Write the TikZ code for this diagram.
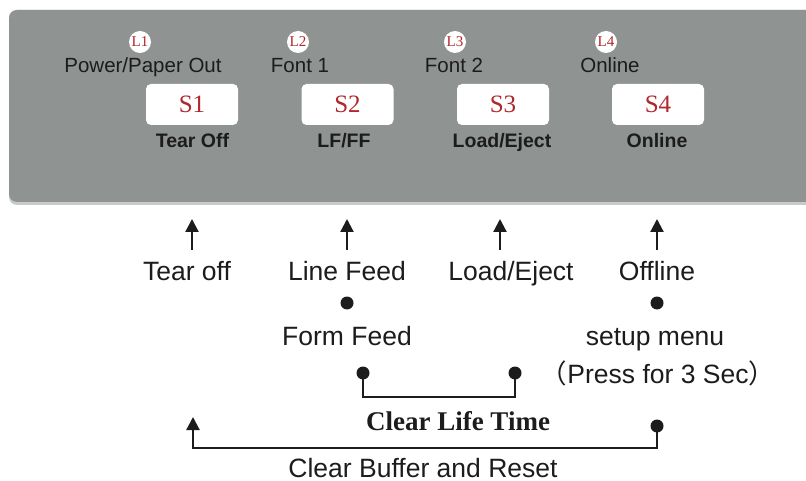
\documentclass[tikz,border=0pt]{standalone}
\usepackage{fontspec}
\setmainfont{Liberation Sans}
\newfontfamily\serifrm{Liberation Serif}
\newfontfamily\cjk{Noto Sans CJK SC}
\usetikzlibrary{arrows.meta}
\definecolor{panelgray}{HTML}{8F9391}
\definecolor{panelline}{HTML}{C9CBCA}
\definecolor{labred}{HTML}{B0282D}
\definecolor{inkdark}{HTML}{1C1C1C}
\tikzset{
  ledtext/.style={anchor=base, text=inkdark, font=\fontsize{20.5}{24}\selectfont, inner sep=0pt},
  keybox/.style={fill=white, rounded corners=5pt, minimum width=92pt, minimum height=41pt, inner sep=0pt, text=labred, font=\serifrm\fontsize{25}{28}\selectfont},
  keytext/.style={anchor=base, text=inkdark, font=\bfseries\fontsize{19.5}{22}\selectfont, inner sep=0pt},
  ledmark/.style={circle, fill=white, minimum size=22pt, inner sep=0pt, text=labred, font=\serifrm\fontsize{15}{16}\selectfont},
  functext/.style={anchor=base, text=inkdark, font=\fontsize{26.5}{30}\selectfont, inner sep=0pt},
  uparrow/.style={line width=2.2pt, draw=inkdark, -{Triangle[width=13pt,length=13pt]}},
  wire/.style={line width=2.2pt, draw=inkdark},
  dotmark/.style={fill=inkdark}
}
\begin{document}
\begin{tikzpicture}[x=1pt,y=-1pt]
\useasboundingbox (0,0) rectangle (806,481);
\fill[white] (0,0) rectangle (806,481);
% panel
\fill[panelline] (9,10) [rounded corners=8pt] -- (9,205) -- (830,205) -- (830,10) -- cycle;
\fill[panelgray] (9,10) [rounded corners=8pt] -- (9,202) -- (830,202) -- (830,10) -- cycle;

% LED markers
\node[ledmark] (l1) at (140,42) {L1};
\node[ledmark] (l2) at (298,42) {L2};
\node[ledmark] (l3) at (455,42) {L3};
\node[ledmark] (l4) at (606,42) {L4};
\node[ledtext] (p1) at (143,73) {Power/Paper Out};
\node[ledtext] (p2) at (300,73) {Font 1};
\node[ledtext] (p3) at (454,73) {Font 2};
\node[ledtext] (p4) at (610,73) {Online};

% keys
\node[keybox] (s1) at (192,104.5) {S1};
\node[keybox] (s2) at (347.5,104.5) {S2};
\node[keybox] (s3) at (503,104.5) {S3};
\node[keybox] (s4) at (658,104.5) {S4};
\node[keytext] (k1) at (192.5,148) {Tear Off};
\node[keytext] (k2) at (344,148) {LF/FF};
\node[keytext] (k3) at (502,148) {Load/Eject};
\node[keytext] (k4) at (657,148) {Online};

% function labels
\node[functext] (f1) at (187,280) {Tear off};
\node[functext] (f2) at (347,280) {Line Feed};
\node[functext] (f3) at (511,280) {Load/Eject};
\node[functext] (f4) at (657,280) {Offline};
\node[functext] (g2) at (347,345) {Form Feed};
\node[functext] (g4) at (655,345) {setup menu};
\node[functext] (h4) at (658,383) {{\cjk （}Press for 3 Sec{\cjk ）}};
\node[anchor=base, text=inkdark, inner sep=0pt, font=\serifrm\bfseries\fontsize{27}{30}\selectfont] (clt) at (458,430) {Clear Life Time};
\node[functext] (cbr) at (423,477) {Clear Buffer and Reset};

% arrows
\coordinate (a1b) at (192,250); \coordinate (a1t) at (192,219);
\coordinate (a2b) at (347,250); \coordinate (a2t) at (347,219);
\coordinate (a3b) at (500,250); \coordinate (a3t) at (500,219);
\coordinate (a4b) at (657,250); \coordinate (a4t) at (657,219);
\draw[uparrow] (a1b) -- (a1t);
\draw[uparrow] (a2b) -- (a2t);
\draw[uparrow] (a3b) -- (a3t);
\draw[uparrow] (a4b) -- (a4t);

% dots
\coordinate (d2) at (347,303);
\coordinate (d4) at (657,303);
\fill[dotmark] (d2) circle (6.5pt);
\fill[dotmark] (d4) circle (6.5pt);

% clear life time bracket
\coordinate (c1) at (363,373);
\coordinate (c2) at (515,373);
\fill[dotmark] (c1) circle (6.5pt);
\fill[dotmark] (c2) circle (6.5pt);
\draw[wire] (c1) -- (363,397) -- (515,397) -- (c2);

% clear buffer bracket
\coordinate (r1) at (657,426);
\coordinate (r0) at (193,417);
\fill[dotmark] (r1) circle (6.5pt);
\draw[wire, -{Triangle[width=13pt,length=13pt]}] (r1) -- (657,448) -- (193,448) -- (r0);
\end{tikzpicture}
\end{document}
